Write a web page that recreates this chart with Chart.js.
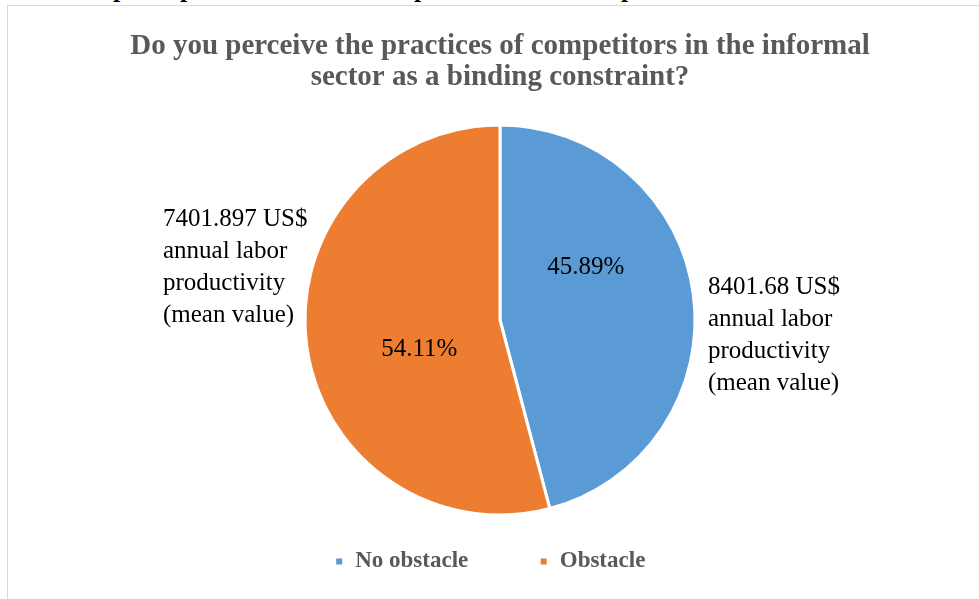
<!DOCTYPE html>
<html>
<head>
<meta charset="utf-8">
<script src="https://cdn.jsdelivr.net/npm/chart.js@4.4.1/dist/chart.umd.min.js"></script>
<style>
  html, body { margin: 0; padding: 0; background: #fff; }
  #wrap { position: relative; width: 979px; height: 599px; overflow: hidden; background: #fff; }
  #frame { position: absolute; left: 7px; top: 5px; right: -2px; bottom: -2px; border-left: 1px solid #d9d9d9; border-top: 1px solid #d9d9d9; }
  #cut { position: absolute; left: 0; top: 0; width: 979px; height: 5px; overflow: hidden; }
  #cut span { position: absolute; top: -26px; font: bold 26px "Liberation Serif", serif; color: #000; }
  canvas { position: absolute; left: 0; top: 0; }
</style>
</head>
<body>
<div id="wrap">
  <div id="cut"><span style="left:113px">p</span><span style="left:180px">p</span><span style="left:414px">p</span><span style="left:621px">p</span></div>
  <div id="frame"></div>
  <canvas id="c" width="979" height="599"></canvas>
</div>
<script>
// ---- data ----
const categories = ['No obstacle', 'Obstacle'];
const shares = [45.89, 54.11];
const productivity = ['8401.68', '7401.897'];
const noteLines = ['annual labor', 'productivity', '(mean value)'];
const titleLines = ['Do you perceive the practices of competitors in the informal', 'sector as a binding constraint?'];
const colors = ['#5B9BD5', '#ED7D31'];

const serif = '"Liberation Serif", "Times New Roman", serif';

const legendPlace = {
  id: 'legendPlace',
  afterLayout(chart) {
    const l = chart.legend;
    l.top = 479; l.bottom = 599;
    l.left -= 10; l.right -= 10;
  }
};

const sliceLabels = {
  id: 'sliceLabels',
  afterDatasetsDraw(chart, args, opts) {
    const ctx = chart.ctx;
    const meta = chart.getDatasetMeta(0);
    meta.data.forEach((arc, i) => {
      const p = arc.tooltipPosition();
      ctx.save();
      ctx.fillStyle = '#000';
      ctx.font = '25px ' + serif;
      ctx.textBaseline = 'middle';
      ctx.textAlign = 'center';
      const po = opts.pctOffsets[i];
      ctx.fillText(shares[i].toFixed(2) + '%', p.x + po[0], p.y + po[1]);
      ctx.textAlign = 'left';
      const b = opts.blocks[i];
      const lines = [productivity[i] + ' US$'].concat(noteLines);
      lines.forEach((t, k) => ctx.fillText(t, arc.x + b[0], arc.y + b[1] + k * 32));
      ctx.restore();
    });
  }
};

new Chart(document.getElementById('c'), {
  type: 'pie',
  data: {
    labels: categories,
    datasets: [{
      data: shares,
      backgroundColor: colors,
      borderColor: '#ffffff',
      borderWidth: 3,
      radius: 195
    }]
  },
  options: {
    responsive: false,
    animation: false,
    layout: { padding: { left: 21, right: 0, top: 0, bottom: 85 } },
    plugins: {
      title: {
        display: true,
        text: titleLines,
        color: '#595959',
        font: { family: serif, size: 29, weight: 'bold', lineHeight: '31px' },
        padding: { top: 31, bottom: 34 }
      },
      legend: {
        display: true,
        position: 'bottom',
        maxHeight: 1,
        labels: {
          color: '#595959',
          font: { family: serif, size: 23, weight: 'bold' },
          boxWidth: 9,
          boxHeight: 9,
          padding: 71
        }
      },
      tooltip: { enabled: false },
      sliceLabels: {
        pctOffsets: [[-11, -40], [16, 17]],
        blocks: [[208, -33], [-337, -101]]
      }
    }
  },
  plugins: [legendPlace, sliceLabels]
});
</script>
</body>
</html>
